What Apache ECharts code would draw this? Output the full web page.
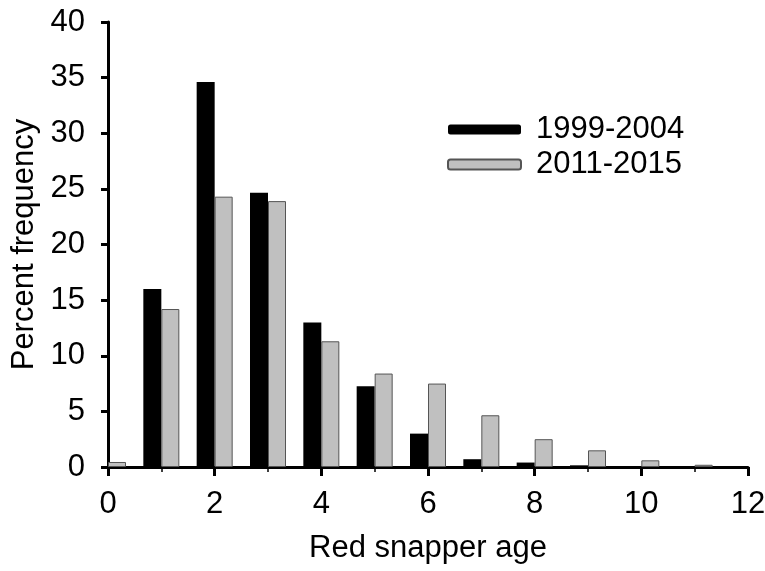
<!DOCTYPE html>
<html>
<head>
<meta charset="utf-8">
<script src="https://cdn.jsdelivr.net/npm/echarts@6/dist/echarts.min.js"></script>
<style>
  html, body { margin: 0; padding: 0; background: #fff; }
  #chart { width: 765px; height: 571px; }
</style>
</head>
<body>
<div id="chart"></div>
<script>
  // ages on the x axis, one pair of bars per age
  var ages = [0, 1, 2, 3, 4, 5, 6, 7, 8, 9, 10, 11];
  var early = [0, 16.0, 34.6, 24.65, 13.0, 7.25, 3.0, 0.7, 0.4, 0.15, 0, 0];      // 1999-2004
  var late = [0.45, 14.2, 24.3, 23.9, 11.3, 8.4, 7.5, 4.65, 2.5, 1.5, 0.6, 0.2];  // 2011-2015
  var seriesNames = ['1999-2004', '2011-2015'];

  function pairs(vals) {
    return ages.map(function (a, i) { return [a, vals[i]]; });
  }

  var font = 'Liberation Sans, Arial, sans-serif';
  var fs = 31;
  var chart = echarts.init(document.getElementById('chart'));

  var option = {
    animation: false,
    textStyle: { fontFamily: font, color: '#000' },
    grid: { left: 108, right: 17, top: 22, bottom: 104, outerBoundsMode: 'none', containLabel: false },
    legend: {
      data: seriesNames,
      orient: 'vertical',
      left: 442,
      top: 109,
      itemWidth: 73,
      itemHeight: 10,
      itemGap: 4,
      textStyle: { fontSize: fs, color: '#000', fontFamily: font, padding: [0, 0, 0, 10] }
    },
    xAxis: {
      type: 'value',
      min: 0,
      max: 12,
      interval: 2,
      name: 'Red snapper age',
      nameLocation: 'middle',
      nameGap: 66,
      nameTextStyle: { fontSize: fs, color: '#000' },
      axisLine: { lineStyle: { color: '#000', width: 3 } },
      axisTick: { show: true, length: 9, lineStyle: { color: '#000', width: 3 } },
      minorTick: { show: true, splitNumber: 2, length: 5, lineStyle: { color: '#000', width: 1.5 } },
      axisLabel: { fontSize: fs, color: '#000', margin: 22 },
      splitLine: { show: false }
    },
    yAxis: {
      type: 'value',
      min: 0,
      max: 40,
      interval: 5,
      name: 'Percent frequency',
      nameLocation: 'middle',
      nameGap: 63,
      nameTextStyle: { fontSize: fs, color: '#000' },
      axisLine: { show: true, lineStyle: { color: '#000', width: 3 } },
      axisTick: { show: true, length: 7, lineStyle: { color: '#000', width: 3 } },
      axisLabel: { fontSize: fs, color: '#000', margin: 23 },
      splitLine: { show: false }
    },
    series: [
      {
        name: seriesNames[0],
        type: 'bar',
        data: pairs(early),
        barWidth: 18,
        barGap: '0%',
        itemStyle: { color: '#000' }
      },
      {
        name: seriesNames[1],
        type: 'bar',
        data: pairs(late),
        barWidth: 18,
        barGap: '0%',
        itemStyle: { color: '#c0c0c0', borderColor: '#555', borderWidth: 1 }
      }
    ]
  };

  chart.setOption(option);
</script>
</body>
</html>
